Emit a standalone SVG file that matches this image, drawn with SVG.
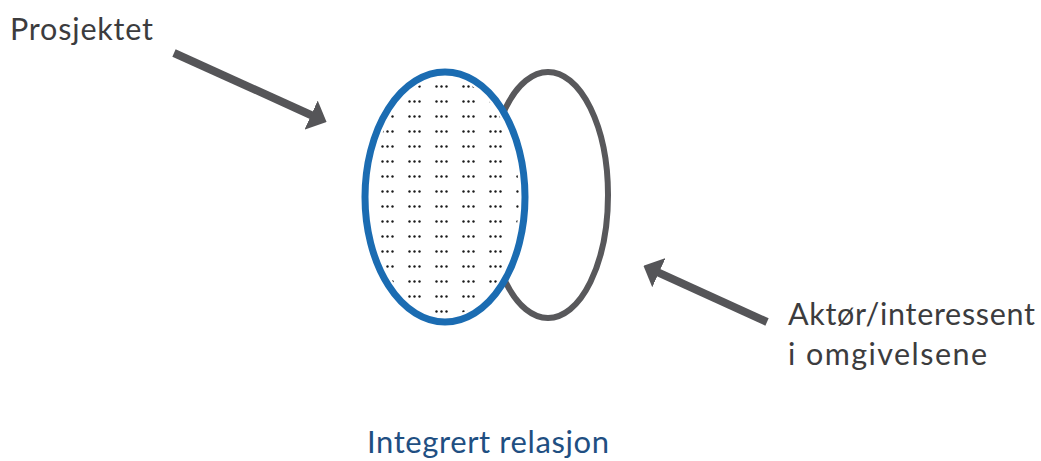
<svg xmlns="http://www.w3.org/2000/svg" width="1041" height="461" viewBox="0 0 1041 461">
<style>
.lbl{font-family:Lato,"Open Sans","Liberation Sans",sans-serif;font-size:30.5px;fill:#3c3c3e}
.cap{font-family:Lato,"Open Sans","Liberation Sans",sans-serif;font-size:31px;fill:#1f4f82}
.arr{stroke:#555558;stroke-width:8;fill:none}
</style>
<defs>
<marker id="ah" viewBox="0 0 17 32" refX="1" refY="16" markerWidth="2.125" markerHeight="4" orient="auto" markerUnits="strokeWidth" preserveAspectRatio="none">
<path d="M0,0 L17,16 L0,32 Z" fill="#555558"/>
</marker>
<pattern id="dots" x="381" y="145" width="27" height="15" patternUnits="userSpaceOnUse">
<circle cx="1.5" cy="1.5" r="1.2" fill="#1a1a1a"/>
<circle cx="6.5" cy="1.5" r="1.2" fill="#1a1a1a"/>
<circle cx="11.5" cy="1.5" r="1.2" fill="#1a1a1a"/>
</pattern>
<clipPath id="clipE"><ellipse cx="445" cy="197" rx="74" ry="119"/></clipPath>
</defs>
<g id="omgivelse">
<ellipse cx="548" cy="195" rx="60" ry="123" fill="#fff" stroke="#58585b" stroke-width="6"/>
</g>
<g id="prosjekt">
<ellipse cx="445" cy="197" rx="80" ry="125" fill="#fff"/>
<rect x="360" y="70" width="170" height="260" fill="url(#dots)" clip-path="url(#clipE)"/>
<ellipse cx="445" cy="197" rx="80" ry="125" fill="none" stroke="#1b6cb2" stroke-width="7"/>
</g>
<g id="connectors">
<line class="arr" x1="174" y1="53" x2="312" y2="115.5" marker-end="url(#ah)"/>
<line class="arr" x1="767" y1="322" x2="658" y2="272.3" marker-end="url(#ah)"/>
</g>
<g id="label-prosjektet"><text class="lbl" x="10" y="40" textLength="143" lengthAdjust="spacing">Prosjektet</text></g>
<g id="label-aktor"><text class="lbl" x="788" y="325" textLength="247" lengthAdjust="spacing">Aktør/interessent</text><text class="lbl" x="788" y="365" textLength="199" lengthAdjust="spacing">i omgivelsene</text></g>
<g id="caption"><text class="cap" x="367" y="453" textLength="242" lengthAdjust="spacing">Integrert relasjon</text></g>
</svg>
